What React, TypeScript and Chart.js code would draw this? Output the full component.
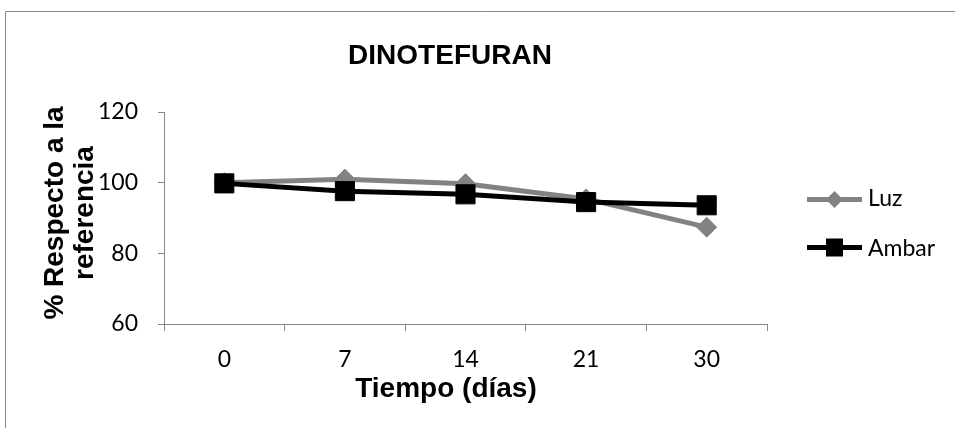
import React, { useEffect, useRef } from 'react';
import { Chart, registerables } from 'chart.js';

Chart.register(...registerables);

// ---- data ----
const categories = ['0', '7', '14', '21', '30'];
const luzValues = [100, 101, 99.7, 95.4, 87.4];
const ambarValues = [99.8, 97.6, 96.7, 94.5, 93.6];
const yTickValues = [60, 80, 100, 120];
const seriesNames = ['Luz', 'Ambar'];
const chartTitle = 'DINOTEFURAN';
const yTitleLines = ['% Respecto a la', 'referencia'];
const xTitle = 'Tiempo (días)';

// ---- style ----
const TICK_FONT = 'Lato, "Open Sans", sans-serif';
const BOLD_FONT = '"Liberation Sans", Arial, sans-serif';
const AXIS_COLOR = '#868686';
const LUZ_COLOR = '#828282';
const AMBAR_COLOR = '#000000';

const decorPlugin = {
  id: 'decor',
  afterDraw(chart: any) {
    const ctx = chart.ctx as CanvasRenderingContext2D;
    ctx.save();
    // outer frame (left and top edges visible)
    ctx.strokeStyle = '#8a8a8a';
    ctx.lineWidth = 1;
    ctx.beginPath();
    ctx.moveTo(5.5, 428);
    ctx.lineTo(5.5, 11.5);
    ctx.lineTo(955, 11.5);
    ctx.stroke();

    // titles
    ctx.fillStyle = '#000';
    ctx.font = `bold 28px ${BOLD_FONT}`;
    ctx.textAlign = 'center';
    ctx.textBaseline = 'alphabetic';
    ctx.fillText(chartTitle, 450, 64);
    ctx.fillText(xTitle, 446, 397);

    const baseX = [63, 93];
    yTitleLines.forEach((line, i) => {
      ctx.save();
      ctx.translate(baseX[i], 213);
      ctx.rotate(-Math.PI / 2);
      ctx.fillText(line, 0, 0);
      ctx.restore();
    });

    // legend
    const lineY = [199.5, 247.5];
    const textY = [206, 255.5];
    chart.data.datasets.forEach((ds: any, i: number) => {
      const y = lineY[i];
      ctx.strokeStyle = ds.borderColor;
      ctx.lineWidth = 5;
      ctx.beginPath();
      ctx.moveTo(807, y);
      ctx.lineTo(862, y);
      ctx.stroke();
      ctx.fillStyle = ds.pointBackgroundColor;
      const cx = 834.5;
      ctx.beginPath();
      if (ds.pointStyle === 'rectRot') {
        const r = 8.5;
        ctx.moveTo(cx, y - r);
        ctx.lineTo(cx + r, y);
        ctx.lineTo(cx, y + r);
        ctx.lineTo(cx - r, y);
        ctx.closePath();
      } else {
        ctx.rect(cx - 8.5, y - 9, 17, 18);
      }
      ctx.fill();
      ctx.fillStyle = '#000';
      ctx.font = `23px ${TICK_FONT}`;
      ctx.textAlign = 'left';
      ctx.textBaseline = 'alphabetic';
      ctx.fillText(ds.label, 868, textY[i]);
    });
    ctx.restore();
  },
};

export default function App() {
  const canvasRef = useRef<HTMLCanvasElement | null>(null);

  useEffect(() => {
    if (!canvasRef.current) return;
    const chart = new Chart(canvasRef.current, {
      type: 'line',
      data: {
        labels: categories,
        datasets: [
          {
            label: seriesNames[0],
            data: luzValues,
            borderColor: LUZ_COLOR,
            backgroundColor: LUZ_COLOR,
            pointBackgroundColor: LUZ_COLOR,
            pointBorderColor: LUZ_COLOR,
            borderWidth: 5,
            pointStyle: 'rectRot',
            pointRadius: 10,
            pointBorderWidth: 1,
            tension: 0,
            order: 2,
          },
          {
            label: seriesNames[1],
            data: ambarValues,
            borderColor: AMBAR_COLOR,
            backgroundColor: AMBAR_COLOR,
            pointBackgroundColor: AMBAR_COLOR,
            pointBorderColor: AMBAR_COLOR,
            borderWidth: 5,
            pointStyle: 'rect',
            pointRadius: 13.5,
            pointBorderWidth: 1,
            tension: 0,
            order: 1,
          },
        ],
      } as any,
      options: {
        responsive: false,
        animation: false,
        events: [],
        layout: { padding: { left: 84, right: 188, top: 112, bottom: 0 } },
        plugins: {
          legend: { display: false },
          title: { display: false },
          tooltip: { enabled: false },
        },
        scales: {
          x: {
            type: 'category',
            offset: true,
            grid: {
              display: true,
              offset: true,
              drawOnChartArea: false,
              drawTicks: true,
              tickLength: 7,
              color: AXIS_COLOR,
            },
            border: { display: true, color: AXIS_COLOR, width: 1 },
            ticks: {
              color: '#000',
              font: { family: TICK_FONT, size: 23 },
              padding: 15,
              maxRotation: 0,
              autoSkip: false,
            },
            afterFit: (scale: any) => {
              scale.height = 104;
            },
          },
          y: {
            min: 60,
            max: 120,
            grid: {
              display: true,
              drawOnChartArea: false,
              drawTicks: true,
              tickLength: 6,
              color: AXIS_COLOR,
            },
            border: { display: true, color: AXIS_COLOR, width: 1 },
            ticks: {
              color: '#000',
              font: { family: TICK_FONT, size: 23 },
              padding: 20,
            },
            afterBuildTicks: (scale: any) => {
              scale.ticks = yTickValues.map((v) => ({ value: v }));
            },
            afterFit: (scale: any) => {
              scale.width = 80;
            },
          },
        },
      } as any,
      plugins: [decorPlugin],
    });
    return () => chart.destroy();
  }, []);

  return (
    <div style={{ position: 'absolute', left: 0, top: 0, width: 955, height: 428, background: '#fff' }}>
      <canvas ref={canvasRef} width={955} height={428} style={{ display: 'block' }} />
    </div>
  );
}
